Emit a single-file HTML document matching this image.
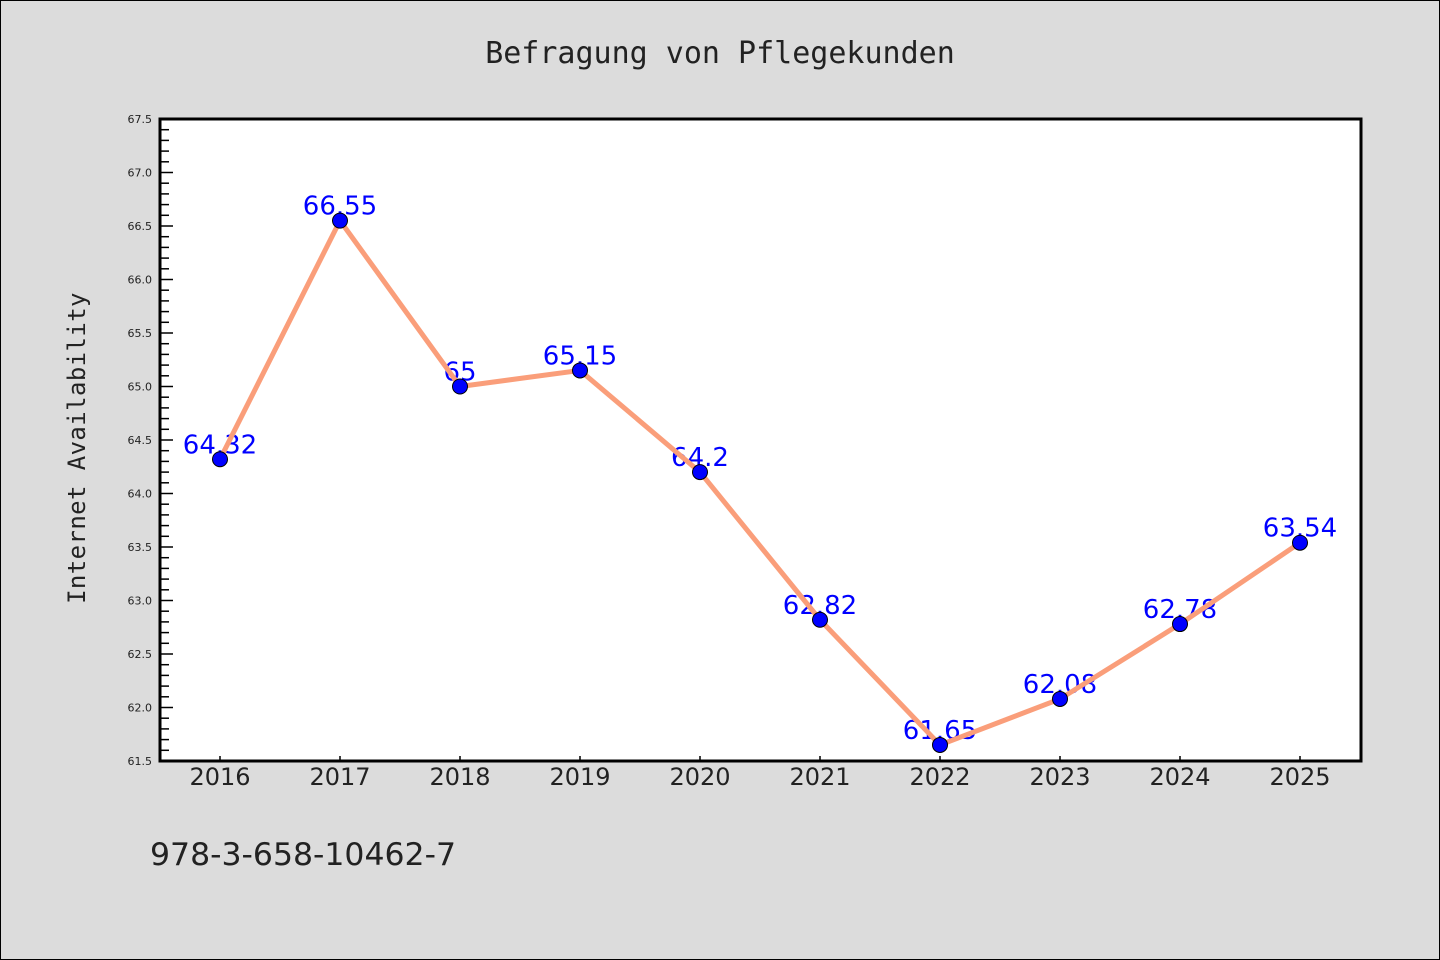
<!DOCTYPE html>
<html><head><meta charset="utf-8"><style>
body{margin:0;background:#dcdcdc}
svg{display:block}
</style></head><body>
<svg width="1440" height="960" xmlns="http://www.w3.org/2000/svg">
<rect x="0.5" y="0.5" width="1439" height="959" fill="#dcdcdc" stroke="#000" stroke-width="1"/>
<text x="720" y="63" text-anchor="middle" font-family="'DejaVu Sans Mono',monospace" font-size="30" fill="#222">Befragung von Pflegekunden</text>
<rect x="160" y="119" width="1201" height="642" fill="#fff"/>
<g id="yaxis"></g>
<g id="xaxis"></g>
<g id="series"></g>
<rect x="160" y="119" width="1201" height="642" fill="none" stroke="#000" stroke-width="3"/>
<text transform="translate(85,448) rotate(-90)" text-anchor="middle" font-family="'DejaVu Sans Mono',monospace" font-size="24" fill="#222" letter-spacing="0.4">Internet Availability</text>
<text x="150" y="865" font-family="'DejaVu Sans','Liberation Sans',sans-serif" font-size="31.5" fill="#222">978-3-658-10462-7</text>
</svg>
<script>
const categories=["2016","2017","2018","2019","2020","2021","2022","2023","2024","2025"];
const values=[64.32,66.55,65,65.15,64.2,62.82,61.65,62.08,62.78,63.54];
const valueLabels=["64.32","66.55","65","65.15","64.2","62.82","61.65","62.08","62.78","63.54"];
const yTicks=["61.5","62.0","62.5","63.0","63.5","64.0","64.5","65.0","65.5","66.0","66.5","67.0","67.5"];
const NS="http://www.w3.org/2000/svg";
const yMin=61.5,yMax=67.5,plotTop=119,plotBot=761,plotLeft=160;
const yS=v=>plotBot-(v-yMin)/(yMax-yMin)*(plotBot-plotTop);
const xS=i=>220+i*120;
function mk(t,a,p){const e=document.createElementNS(NS,t);for(const k in a)e.setAttribute(k,a[k]);p.appendChild(e);return e;}
const ya=document.getElementById('yaxis'),xa=document.getElementById('xaxis'),sg=document.getElementById('series');
for(let k=0;k<=60;k++){
  const v=yMin+k*0.1;
  const y=yS(v);const major=k%5===0;
  const l=mk('line',{x1:plotLeft,x2:plotLeft+(major?13:9),y1:y,y2:y,stroke:'#000','stroke-width':1.5},ya);
  
  
}
yTicks.forEach(t=>{
  const e=mk('text',{x:152,y:yS(parseFloat(t))+4,'text-anchor':'end','font-family':'DejaVu Sans,sans-serif','font-size':11,fill:'#222'},ya);
  
  
  e.textContent=t;
});
categories.forEach((c,i)=>{
  const l=mk('line',{x1:xS(i),x2:xS(i),y1:plotBot,y2:plotBot-5,stroke:'#000','stroke-width':1.5},xa);
  
  
  const e=mk('text',{x:xS(i),y:785,'text-anchor':'middle','font-family':'DejaVu Sans,sans-serif','font-size':24,fill:'#222'},xa);
  
  
  e.textContent=c;
});
values.forEach((v,i)=>{
  const e=mk('text',{x:xS(i),y:yS(v)-6,'text-anchor':'middle','font-family':'DejaVu Sans,sans-serif','font-size':26,fill:'#0000ff'},sg);
  
  
  e.textContent=valueLabels[i];
});
const pl=mk('polyline',{points:values.map((v,i)=>xS(i)+','+yS(v)).join(' '),fill:'none',stroke:'#fa9e7a','stroke-width':5,'stroke-linejoin':'round'},sg);


values.forEach((v,i)=>{
  const c=mk('circle',{cx:xS(i),cy:yS(v),r:7.5,fill:'#0000ff',stroke:'#000','stroke-width':1},sg);
  
  
});
</script>
</body></html>
